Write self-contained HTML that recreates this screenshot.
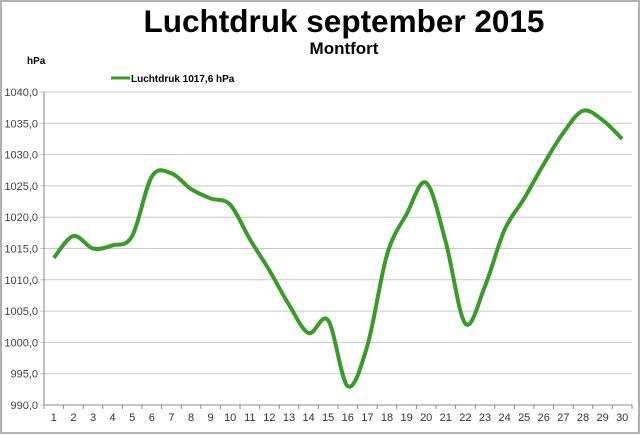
<!DOCTYPE html>
<html><head><meta charset="utf-8"><style>
body{margin:0;background:#fff}
svg{display:block}
text{font-family:"Liberation Sans",Arial,sans-serif}
</style></head><body>
<svg id="s" width="640" height="435" viewBox="0 0 640 435" xmlns="http://www.w3.org/2000/svg">
<rect x="0" y="0" width="640" height="435" fill="#fff"/>
<rect x="1" y="1" width="638" height="432" fill="none" stroke="#b0b0b0" stroke-width="2"/>
<text x="344" y="32" font-size="31.5" font-weight="bold" text-anchor="middle">Luchtdruk september 2015</text>
<text x="344" y="54" font-size="17" font-weight="bold" text-anchor="middle">Montfort</text>
<text x="27" y="64" font-size="10" font-weight="bold">hPa</text>
<line x1="111" y1="78" x2="130" y2="78" stroke="#3a9a2a" stroke-width="3"/>
<text x="131" y="82" font-size="10" font-weight="bold">Luchtdruk 1017,6 hPa</text>
<g id="grid"></g>
<path id="p" fill="none" stroke="#3a9a2a" stroke-width="4" stroke-linejoin="round"/>
</svg>
<script>
var d=[1013.5,1017,1015,1015.5,1017,1026.5,1027,1024.5,1023,1022,1016.5,1011.5,1006,1001.5,1003.5,993,999.5,1014,1020.5,1025.5,1016,1003,1009,1018,1023,1028.5,1033.5,1037,1035.5,1032.5];
var g=document.getElementById('grid'),h='';
function Y(v){return 92+(1040-v)*313/50}
function X(i){return 44+19.6*(i+0.5)}
for(var k=0;k<=10;k++){var v=990+k*5,y=Y(v);
h+='<line x1="40" y1="'+y+'" x2="632" y2="'+y+'" stroke="#c8c8c8" stroke-width="1"/>';
h+='<text x="38" y="'+(y+4)+'" font-size="11" fill="#444" text-anchor="end">'+v+',0</text>';}
h+='<line x1="44" y1="92" x2="44" y2="405" stroke="#888"/>';
h+='<line x1="44" y1="405" x2="632" y2="405" stroke="#888"/>';
for(var i=0;i<=30;i++){var x=44+19.6*i;h+='<line x1="'+x+'" y1="405" x2="'+x+'" y2="409" stroke="#888"/>';}
for(var i=0;i<30;i++){h+='<text x="'+X(i)+'" y="421" font-size="11" fill="#333" text-anchor="middle">'+(i+1)+'</text>';}
g.innerHTML=h;
var P=d.map(function(v,i){return [X(i),Y(v)]});
var s='M'+P[0][0]+','+P[0][1];
for(var i=0;i<P.length-1;i++){var p0=P[Math.max(i-1,0)],p1=P[i],p2=P[i+1],p3=P[Math.min(i+2,P.length-1)];
s+=' C'+(p1[0]+(p2[0]-p0[0])/6)+','+(p1[1]+(p2[1]-p0[1])/6)+' '+(p2[0]-(p3[0]-p1[0])/6)+','+(p2[1]-(p3[1]-p1[1])/6)+' '+p2[0]+','+p2[1];}
document.getElementById('p').setAttribute('d',s);
</script>
</body></html>
